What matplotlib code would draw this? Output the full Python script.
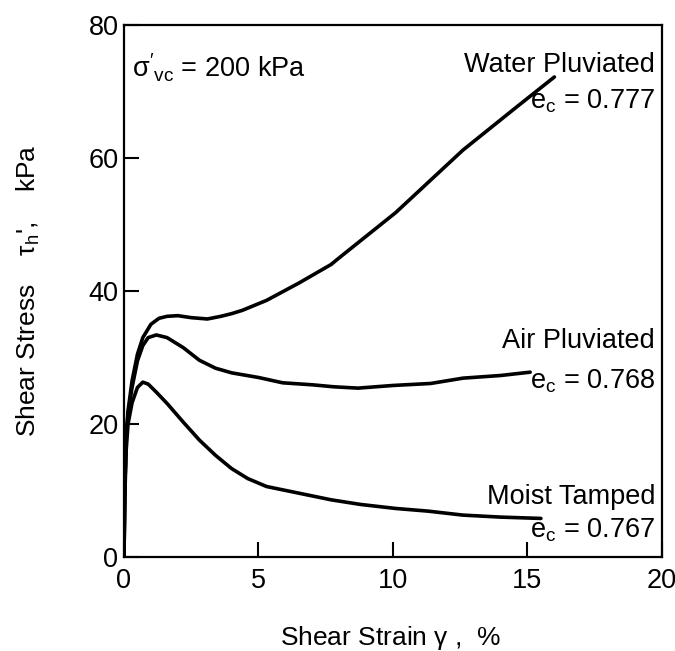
import matplotlib.pyplot as plt

plt.rcParams["font.family"] = ["Liberation Sans", "DejaVu Sans"]
plt.rcParams["mathtext.fontset"] = "custom"
plt.rcParams["mathtext.rm"] = "Liberation Sans"
plt.rcParams["mathtext.it"] = "Liberation Sans"
plt.rcParams["mathtext.default"] = "regular"

# curves (strain %, stress kPa)
water_x = [0, 0.03, 0.08, 0.15, 0.3, 0.5, 0.7, 1.0, 1.3, 1.6, 2.0, 2.5, 3.1, 3.6, 4.0, 4.4, 5.3, 6.5, 7.7, 8.0, 10.1, 12.6, 14.6, 16.0]
water_y = [0, 10, 18, 22, 26.5, 30.5, 33, 35, 35.9, 36.2, 36.3, 36.0, 35.8, 36.2, 36.6, 37.1, 38.6, 41.2, 44.0, 45.0, 51.8, 61.2, 67.7, 72.2]

air_x = [0, 0.03, 0.08, 0.15, 0.3, 0.5, 0.7, 0.9, 1.2, 1.6, 2.2, 2.8, 3.4, 4.0, 5.0, 5.9, 7.0, 7.8, 8.7, 10.0, 11.4, 12.6, 14.0, 15.1]
air_y = [0, 10, 18, 21.5, 25.5, 29.5, 31.8, 33.0, 33.4, 33.0, 31.5, 29.6, 28.4, 27.7, 27.0, 26.2, 25.9, 25.6, 25.4, 25.8, 26.1, 26.9, 27.3, 27.8]

moist_x = [0, 0.03, 0.08, 0.15, 0.3, 0.5, 0.7, 0.9, 1.2, 1.6, 2.2, 2.8, 3.4, 4.0, 4.6, 5.3, 6.5, 7.7, 8.8, 10.1, 11.3, 12.6, 14.0, 15.5]
moist_y = [0, 9, 16, 20, 23.2, 25.5, 26.3, 26.0, 24.8, 23.1, 20.3, 17.6, 15.3, 13.3, 11.8, 10.6, 9.6, 8.6, 7.9, 7.3, 6.9, 6.3, 6.0, 5.8]

fig = plt.figure(figsize=(6.75, 6.51), dpi=100)
ax = fig.add_axes([0.1837, 0.1444, 0.797, 0.817])

for xs, ys in [(water_x, water_y), (air_x, air_y), (moist_x, moist_y)]:
    ax.plot(xs, ys, color="black", lw=2.6, solid_capstyle="round")

ax.set_xlim(0, 20)
ax.set_ylim(0, 80)
ax.set_xticks([0, 5, 10, 15, 20])
ax.set_yticks([0, 20, 40, 60, 80])
ax.tick_params(direction="in", length=11, width=1.5, labelsize=19.5, pad=4)
ax.tick_params(axis="x", pad=8)
for s in ax.spines.values():
    s.set_linewidth(1.6)

fig.text(0.578, 0.02, "Shear Strain $\\gamma$ ,  %", fontsize=19, ha="center", va="center")
fig.text(0.042, 0.553, "Shear Stress    $\\tau_{h}$',    kPa", fontsize=19,
         ha="center", va="center", rotation=90)

ax.text(0.3, 73.5, r"$\sigma'_{vc}$ = 200 kPa", fontsize=19.5, va="center")

labels = [
    (74.0, "Water Pluviated"), (68.5, r"e$_c$ = 0.777"),
    (32.5, "Air Pluviated"), (26.5, r"e$_c$ = 0.768"),
    (9.0, "Moist Tamped"), (4.0, r"e$_c$ = 0.767"),
]
for y, t in labels:
    ax.text(19.75, y, t, fontsize=19.5, ha="right", va="center")

fig.savefig("out.png", dpi=100)
